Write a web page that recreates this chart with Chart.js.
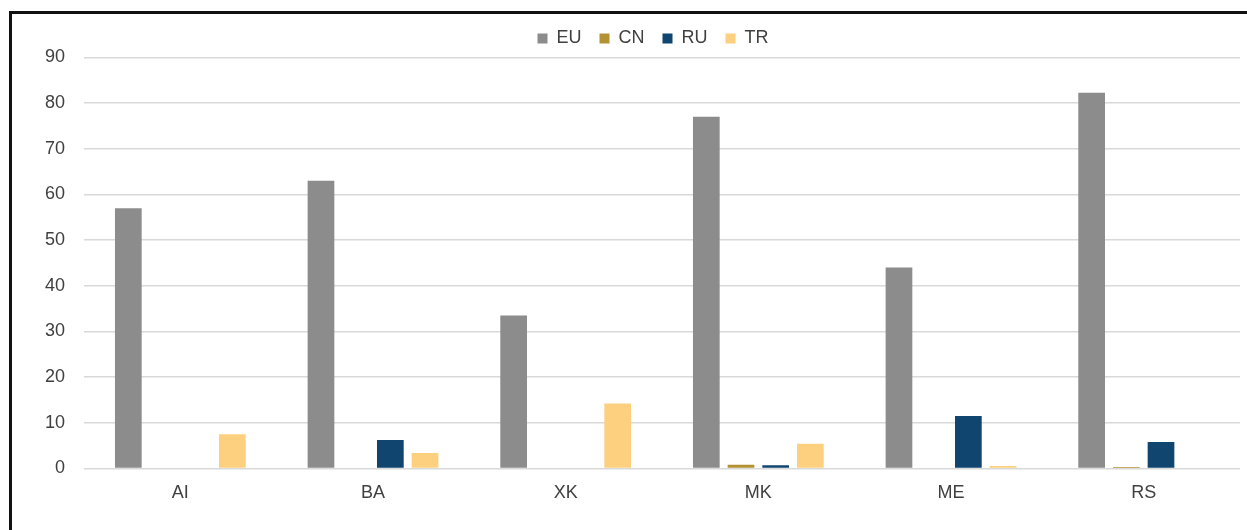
<!DOCTYPE html>
<html>
<head>
<meta charset="utf-8">
<script src="https://cdn.jsdelivr.net/npm/chart.js@4"></script>
<style>
    html, body { margin: 0; padding: 0; background: #fff; }
    #wrap { position: relative; width: 1247px; height: 530px; overflow: hidden; }
    #frame {
        position: absolute; left: 9px; top: 11px; width: 1300px; height: 600px;
        border-left: 3px solid #111; border-top: 3px solid #111;
    }
    canvas { position: absolute; left: 0; top: 0; }
</style>
</head>
<body>
<div id="wrap">
    <div id="frame"></div>
    <canvas id="tradeChart" width="1247" height="530"></canvas>
</div>
<script>
// Categories and series
const categories = ['AI', 'BA', 'XK', 'MK', 'ME', 'RS'];
const euValues = [57, 63, 33.5, 77, 44, 82.3];
const cnValues = [0, 0, 0, 0.8, 0, 0.3];
const ruValues = [0, 6.2, 0, 0.7, 11.5, 5.8];
const trValues = [7.5, 3.4, 14.2, 5.4, 0.5, 0];
const yTicks = [0, 10, 20, 30, 40, 50, 60, 70, 80, 90];

const colors = {
    eu: '#8c8c8c',
    cn: '#b39234',
    ru: '#0f456f',
    tr: '#fcd07e',
    grid: '#d9d9d9',
    text: '#404040'
};

const font = { family: '"Liberation Sans", Arial, sans-serif', size: 18 };

function series(label, data, color) {
    return {
        label: label,
        data: data,
        backgroundColor: color,
        borderWidth: 0,
        categoryPercentage: 0.72,
        barPercentage: 0.77
    };
}

// Nudge the legend a little right of centre, as in the original
const legendShift = {
    id: 'legendShift',
    afterLayout(chart) {
        chart.legend.left += 12;
        chart.legend.right += 12;
    }
};

const ctx = document.getElementById('tradeChart');

new Chart(ctx, {
    type: 'bar',
    data: {
        labels: categories,
        datasets: [
            series('EU', euValues, colors.eu),
            series('CN', cnValues, colors.cn),
            series('RU', ruValues, colors.ru),
            series('TR', trValues, colors.tr)
        ]
    },
    plugins: [legendShift],
    options: {
        responsive: false,
        animation: false,
        layout: {
            padding: { left: 42, right: 7, top: 11.5, bottom: 21 }
        },
        plugins: {
            legend: {
                position: 'top',
                labels: {
                    boxWidth: 10,
                    boxHeight: 10,
                    padding: 18,
                    color: colors.text,
                    font: font
                }
            },
            tooltip: { enabled: false }
        },
        scales: {
            x: {
                grid: { display: false },
                border: { display: false },
                ticks: { color: colors.text, font: font, padding: 5.5 }
            },
            y: {
                min: 0,
                max: 90,
                afterFit: function(scale) { scale.width = 42; },
                afterBuildTicks: function(scale) {
                    scale.ticks = yTicks.map(v => ({ value: v }));
                },
                grid: { color: colors.grid, lineWidth: 1.5, drawTicks: false },
                border: { display: false },
                ticks: { color: colors.text, font: font, padding: 19 }
            }
        }
    }
});
</script>
</body>
</html>
